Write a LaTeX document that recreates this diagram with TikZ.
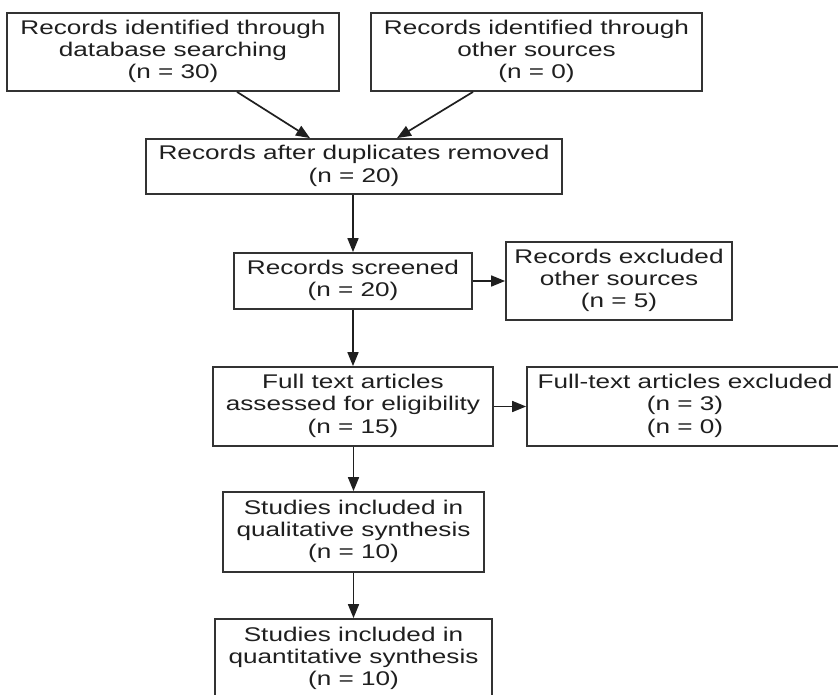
\documentclass[tikz,border=0pt]{standalone}
\usepackage{fontspec}
\setmainfont{Liberation Sans}
\usetikzlibrary{arrows.meta,calc}
\newcommand{\bxt}[1]{\raisebox{-2pt}{\scalebox{1.32}[1]{\begin{tabular}{@{}c@{}}#1\end{tabular}}}}
\begin{document}
\begin{tikzpicture}[x=1pt,y=-1pt,
  box/.style={draw=black!80, line width=1.8pt, rectangle, inner sep=0pt,
    font=\fontsize{19.8}{22.2}\selectfont, text=black!88},
  arr/.style={draw=black!88, line width=1.7pt, -{Triangle[length=14pt,width=11pt]}}]
\fill[white] (0,0) rectangle (838,694);
\useasboundingbox (0,0) rectangle (838,694);
\node[box, minimum width=332pt, minimum height=78pt] (b1) at (173,52)
  {\bxt{Records identified through\\database searching\\(n = 30)}};
\node[box, minimum width=331pt, minimum height=78pt] (b2) at (536.5,52)
  {\bxt{Records identified through\\other sources\\(n = 0)}};
\node[box, minimum width=416pt, minimum height=55pt] (b3) at (354,166.5)
  {\bxt{Records after duplicates removed\\(n = 20)}};
\node[box, minimum width=238pt, minimum height=56pt] (b4) at (353,281)
  {\bxt{Records screened\\(n = 20)}};
\node[box, minimum width=226pt, minimum height=78pt] (b5) at (619,281)
  {\bxt{Records excluded\\other sources\\(n = 5)}};
\node[box, minimum width=280pt, minimum height=79pt] (b6) at (353,406.5)
  {\bxt{Full text articles\\assessed for eligibility\\(n = 15)}};
\node[box, minimum width=316pt, minimum height=79pt] (b7) at (685,406.5)
  {\bxt{Full-text articles excluded\\(n = 3)\\(n = 0)}};
\node[box, minimum width=261pt, minimum height=80pt] (b8) at (353.5,532)
  {\bxt{Studies included in\\qualitative synthesis\\(n = 10)}};
\node[box, minimum width=277pt, minimum height=80pt] (b9) at (353.5,659)
  {\bxt{Studies included in\\quantitative synthesis\\(n = 10)}};
\draw[arr] ([xshift=64pt]b1.south) -- ([xshift=-44pt]b3.north);
\draw[arr] ([xshift=-63.5pt]b2.south) -- ([xshift=43pt]b3.north);
\draw[arr] (b3.south -| b4.north) -- (b4.north);
\draw[arr] (b4.east) -- (b5.west);
\draw[arr] (b4.south) -- (b6.north);
\draw[arr] (b6.east) -- (b7.west);
\draw[arr] (b6.south -| b8.north) -- (b8.north);
\draw[arr] (b8.south) -- (b9.north);
\end{tikzpicture}
\end{document}
